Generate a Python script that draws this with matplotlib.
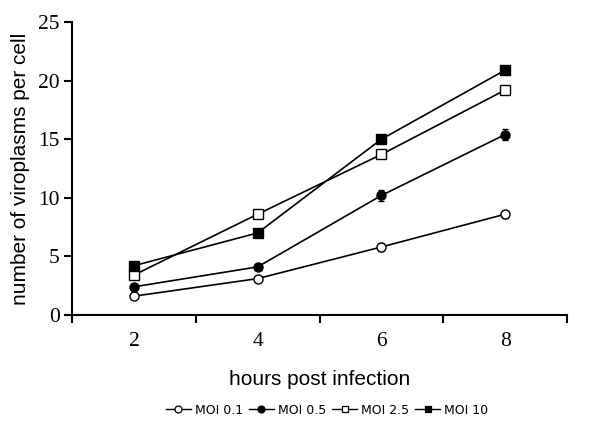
import numpy as np
import matplotlib
matplotlib.use('Agg')
import matplotlib.pyplot as plt
from matplotlib.lines import Line2D

hours = [2, 4, 6, 8]
moi_01 = [1.6, 3.1, 5.8, 8.6]
moi_01_err = [0.15, 0.2, 0.3, 0.3]
moi_05 = [2.4, 4.1, 10.2, 15.4]
moi_05_err = [0.2, 0.2, 0.45, 0.45]
moi_25 = [3.4, 8.6, 13.7, 19.2]
moi_25_err = [0.2, 0.2, 0.2, 0.3]
moi_10 = [4.2, 7.0, 15.0, 20.9]
moi_10_err = [0.2, 0.2, 0.2, 0.2]

fig = plt.figure(figsize=(6, 4.25), dpi=100)
ax = fig.add_axes([0.12, 0.259, 0.825, 0.689])

series = [
    (moi_01, moi_01_err, 'o', 'white', 'MOI 0.1'),
    (moi_05, moi_05_err, 'o', 'black', 'MOI 0.5'),
    (moi_25, moi_25_err, 's', 'white', 'MOI 2.5'),
    (moi_10, moi_10_err, 's', 'black', 'MOI 10'),
]
handles = []
for vals, err, m, fc, lab in series:
    ax.errorbar(hours, vals, yerr=err, color='black', marker=m, mfc=fc, mec='black',
                ms=6.5 if m == 'o' else 7, mew=1.0, lw=1.2, capsize=2, elinewidth=1.0)
    handles.append(Line2D([], [], color='black', marker=m, mfc=fc, mec='black',
                          ms=5, mew=0.9, lw=1.0, label=lab))

ax.set_xlim(1, 9)
ax.set_ylim(0, 25)
ax.set_xticks([1, 3, 5, 7, 9])
ax.set_xticklabels([])
ax.set_xticks(hours, minor=True)
ax.set_xticklabels([str(h) for h in hours], minor=True, family='Liberation Serif', fontsize=15.5)
ax.tick_params(axis='x', which='minor', length=0, pad=12)
ax.tick_params(axis='x', which='major', length=6, width=1.5, direction='out')
ax.set_yticks([0, 5, 10, 15, 20, 25])
ax.set_yticklabels(['0', '5', '10', '15', '20', '25'], family='Liberation Serif', fontsize=15.5)
ax.tick_params(axis='y', length=6, width=1.5, direction='out', pad=3)

for s in ['top', 'right']:
    ax.spines[s].set_visible(False)
for s in ['left', 'bottom']:
    ax.spines[s].set_linewidth(1.5)

ax.set_xlabel('hours post infection', family='Liberation Sans', fontsize=15, labelpad=14)
ax.set_ylabel('number of viroplasms per cell', family='Liberation Sans', fontsize=15, labelpad=6)

fig.legend(handles=handles, loc='center', bbox_to_anchor=(0.545, 0.035), ncol=4, frameon=False,
           prop={'family': 'DejaVu Sans', 'size': 9}, handlelength=2.0, columnspacing=0.5,
           handletextpad=0.3)

fig.savefig('out.png', dpi=100)
